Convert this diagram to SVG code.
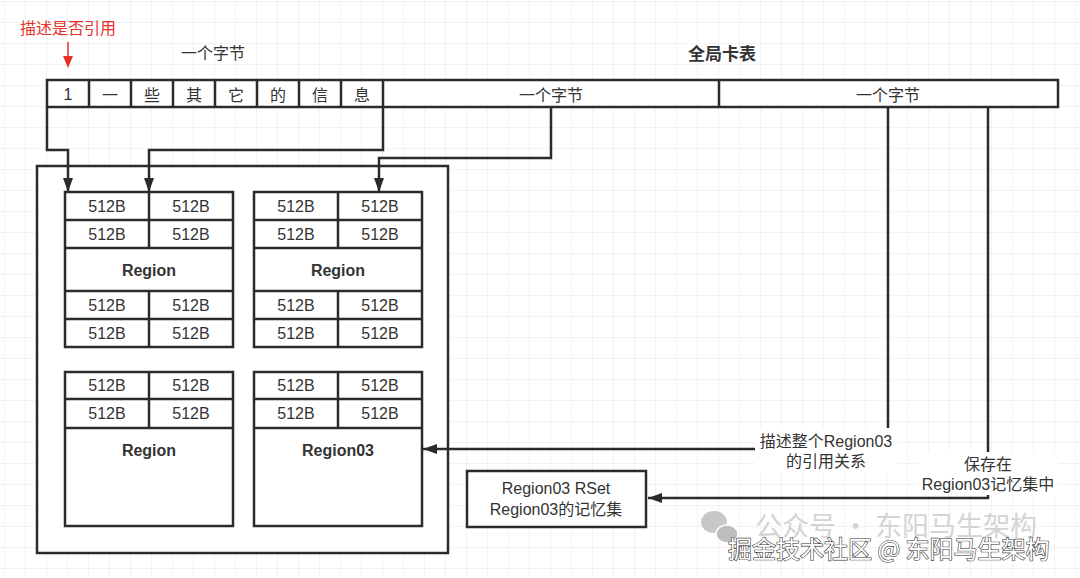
<svg xmlns="http://www.w3.org/2000/svg" width="1080" height="578" viewBox="0 0 1080 578">
<defs>
<pattern id="grid" x="5" y="2" width="21" height="21" patternUnits="userSpaceOnUse">
<path d="M21,0 V21 M0,21 H21" fill="none" stroke="#e6e6e6" stroke-width="1"/>
</pattern>
<marker id="arr" viewBox="0 0 14 10" refX="14" refY="5" markerWidth="14" markerHeight="10" markerUnits="userSpaceOnUse" orient="auto">
<path d="M0,0 L14,5 L0,10 z" fill="#2b2b2b"/>
</marker>
<style>
.box{fill:#fff;stroke:#2b2b2b;stroke-width:2.5}
.ln{fill:none;stroke:#2b2b2b;stroke-width:2.5}
.t{font-family:'Liberation Sans','Noto Sans CJK SC',sans-serif;font-size:16px;fill:#333;text-anchor:middle;dominant-baseline:central}
.c{font-family:'Noto Sans CJK SC',sans-serif;font-size:16px;fill:#333;text-anchor:middle;dominant-baseline:central}
.b{font-family:'Liberation Sans','Noto Sans CJK SC',sans-serif;font-size:16px;font-weight:bold;fill:#333;text-anchor:middle;dominant-baseline:central}
.conn{fill:none;stroke:#2b2b2b;stroke-width:2.5}
</style>
</defs>
<rect width="1080" height="578" fill="#fff"/>
<rect width="1080" height="578" fill="url(#grid)"/>

<g id="label-ref">
<text class="c" x="68" y="27" style="fill:#e8302a">描述是否引用</text>
<path d="M68,42 V58" stroke="#e8302a" stroke-width="1.5"/>
<path d="M63,56 L73,56 L68,68 z" fill="#e8302a"/>
</g>
<g id="title-byte"><text class="c" x="213" y="52">一个字节</text></g>
<g id="title-card"><text class="c" x="722" y="52" style="font-weight:bold;font-size:17px">全局卡表</text></g>

<g id="card-table">
<rect class="box" x="47" y="80" width="1011" height="27"/>
<path class="ln" d="M89,80V107 M131,80V107 M173,80V107 M215,80V107 M257,80V107 M299,80V107 M341,80V107 M383,80V107 M719,80V107"/>
<text class="t" x="68" y="94">1</text>
<text class="c" x="110" y="94">一</text>
<text class="c" x="152" y="94">些</text>
<text class="c" x="194" y="94">其</text>
<text class="c" x="236" y="94">它</text>
<text class="c" x="278" y="94">的</text>
<text class="c" x="320" y="94">信</text>
<text class="c" x="362" y="94">息</text>
<text class="c" x="551" y="94">一个字节</text>
<text class="c" x="888" y="94">一个字节</text>
</g>

<g id="heap">
<rect class="box" x="37" y="166" width="411" height="387"/>
</g>

<g id="region1">
<rect class="box" x="65" y="192" width="168" height="155"/>
<path class="ln" d="M65,220H233 M65,248H233 M65,291H233 M65,319H233 M149,192V248 M149,291V347"/>
<text class="t" x="107" y="206">512B</text><text class="t" x="191" y="206">512B</text>
<text class="t" x="107" y="234">512B</text><text class="t" x="191" y="234">512B</text>
<text class="b" x="149" y="270">Region</text>
<text class="t" x="107" y="305">512B</text><text class="t" x="191" y="305">512B</text>
<text class="t" x="107" y="333">512B</text><text class="t" x="191" y="333">512B</text>
</g>

<g id="region2">
<rect class="box" x="254" y="192" width="168" height="155"/>
<path class="ln" d="M254,220H422 M254,248H422 M254,291H422 M254,319H422 M338,192V248 M338,291V347"/>
<text class="t" x="296" y="206">512B</text><text class="t" x="380" y="206">512B</text>
<text class="t" x="296" y="234">512B</text><text class="t" x="380" y="234">512B</text>
<text class="b" x="338" y="270">Region</text>
<text class="t" x="296" y="305">512B</text><text class="t" x="380" y="305">512B</text>
<text class="t" x="296" y="333">512B</text><text class="t" x="380" y="333">512B</text>
</g>

<g id="region3">
<rect class="box" x="65" y="372" width="168" height="154"/>
<path class="ln" d="M65,399H233 M65,428H233 M149,372V428"/>
<text class="t" x="107" y="385">512B</text><text class="t" x="191" y="385">512B</text>
<text class="t" x="107" y="413">512B</text><text class="t" x="191" y="413">512B</text>
<text class="b" x="149" y="450">Region</text>
</g>

<g id="region03">
<rect class="box" x="254" y="372" width="168" height="154"/>
<path class="ln" d="M254,399H422 M254,428H422 M338,372V428"/>
<text class="t" x="296" y="385">512B</text><text class="t" x="380" y="385">512B</text>
<text class="t" x="296" y="413">512B</text><text class="t" x="380" y="413">512B</text>
<text class="b" x="338" y="450">Region03</text>
</g>

<g id="rset">
<rect class="box" x="467" y="471" width="179" height="56"/>
<text class="t" x="556" y="488">Region03 RSet</text>
<text class="t" x="556" y="509">Region03的记忆集</text>
</g>

<g id="connectors">
<path class="conn" d="M47,107 V150 H68 V192" marker-end="url(#arr)"/>
<path class="conn" d="M383,107 V150 H149 V192" marker-end="url(#arr)"/>
<path class="conn" d="M551,107 V158 H379 V192" marker-end="url(#arr)"/>
<path class="conn" d="M888,107 V449 H423" marker-end="url(#arr)"/>
<path class="conn" d="M988,107 V498 H648" marker-end="url(#arr)"/>
<rect x="755" y="428" width="143" height="44" fill="#fff"/>
<text class="t" x="826" y="441">描述整个Region03</text>
<text class="t" x="826" y="461">的引用关系</text>
<rect x="918" y="452" width="141" height="43" fill="#fff"/>
<text class="t" x="988" y="464">保存在</text>
<text class="t" x="988" y="484">Region03记忆集中</text>
</g>

<g id="watermark">
<ellipse cx="714" cy="522" rx="13" ry="11" fill="#c8c8c8"/>
<ellipse cx="727" cy="534" rx="11" ry="9" fill="#bdbdbd" stroke="#fff" stroke-width="1.5"/>
<text x="755" y="536" style="font-family:'Noto Sans CJK SC',sans-serif;font-size:27px;fill:#d4d4d4">公众号 · 东阳马生架构</text>
<text x="728" y="558" style="font-family:'Noto Sans CJK SC',sans-serif;font-size:24px;fill:#fff;stroke:#333;stroke-width:1.2;paint-order:stroke">掘金技术社区 @ 东阳马生架构</text>
</g>
</svg>
